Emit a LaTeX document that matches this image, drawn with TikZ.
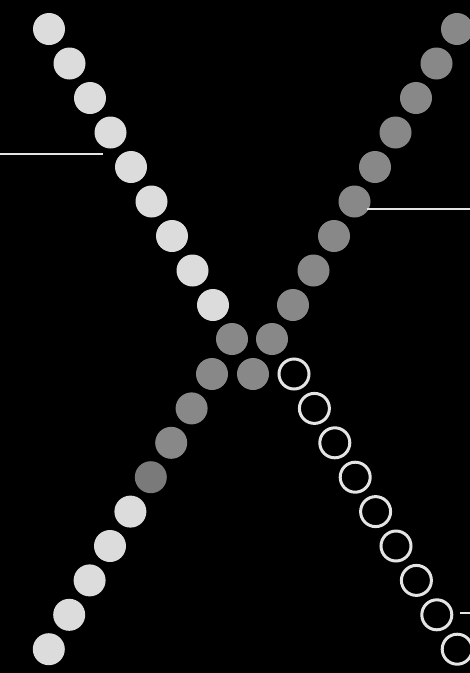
\documentclass[tikz,border=0pt]{standalone}
\definecolor{cbright}{HTML}{DCDCDC}
\definecolor{cmid}{HTML}{888888}
\definecolor{cdim}{HTML}{7A7A7A}
\definecolor{cring}{HTML}{E4E4E4}
\tikzset{
  every picture/.style={x=1pt, y=-1pt},
  bead/.style={circle, fill=#1, minimum size=32pt, inner sep=0pt},
  bead/.default=cbright,
  ring/.style={circle, draw=cring, fill=black, line width=3pt, minimum size=30pt, inner sep=0pt},
  lead/.style={draw=cring, line width=2pt},
}
\begin{document}
\begin{tikzpicture}
  \useasboundingbox (0,0) rectangle (470,673);
  \fill[black] (0,0) rectangle (470,673);
  % upper arms
  \foreach \i in {1,...,9} {
    \node[bead] (ul\i) at ({49+20.5*(\i-1)}, {29+34.5*(\i-1)}) {};
    \node[bead=cmid] (ur\i) at ({457-20.5*(\i-1)}, {29+34.5*(\i-1)}) {};
  }
  % centre of the cross
  \node[bead=cmid] (cl) at (232,339) {};
  \node[bead=cmid] (cr) at (272,339) {};
  \node[bead=cmid] (cb) at (253,374) {};
  % lower arms
  \foreach \i/\c in {1/cmid, 2/cmid, 3/cmid, 4/cdim, 5/cbright, 6/cbright, 7/cbright, 8/cbright, 9/cbright}
    \node[bead=\c] (ll\i) at ({212-20.4*(\i-1)}, {374+34.4*(\i-1)}) {};
  \foreach \i in {1,...,9}
    \node[ring] (lr\i) at ({294+20.4*(\i-1)}, {374+34.4*(\i-1)}) {};
  % pointer lines
  \coordinate (tagL) at (0,154);
  \coordinate (tipL) at (103,154);
  \coordinate (tipR) at (367,209);
  \coordinate (tagR) at (470,209);
  \coordinate (tipS) at (460,613);
  \coordinate (tagS) at (470,613);
  \draw[lead] (tagL) -- (tipL);
  \draw[lead] (tipR) -- (tagR);
  \draw[lead, line width=2.6pt] (tipS) -- (tagS);
\end{tikzpicture}
\end{document}
